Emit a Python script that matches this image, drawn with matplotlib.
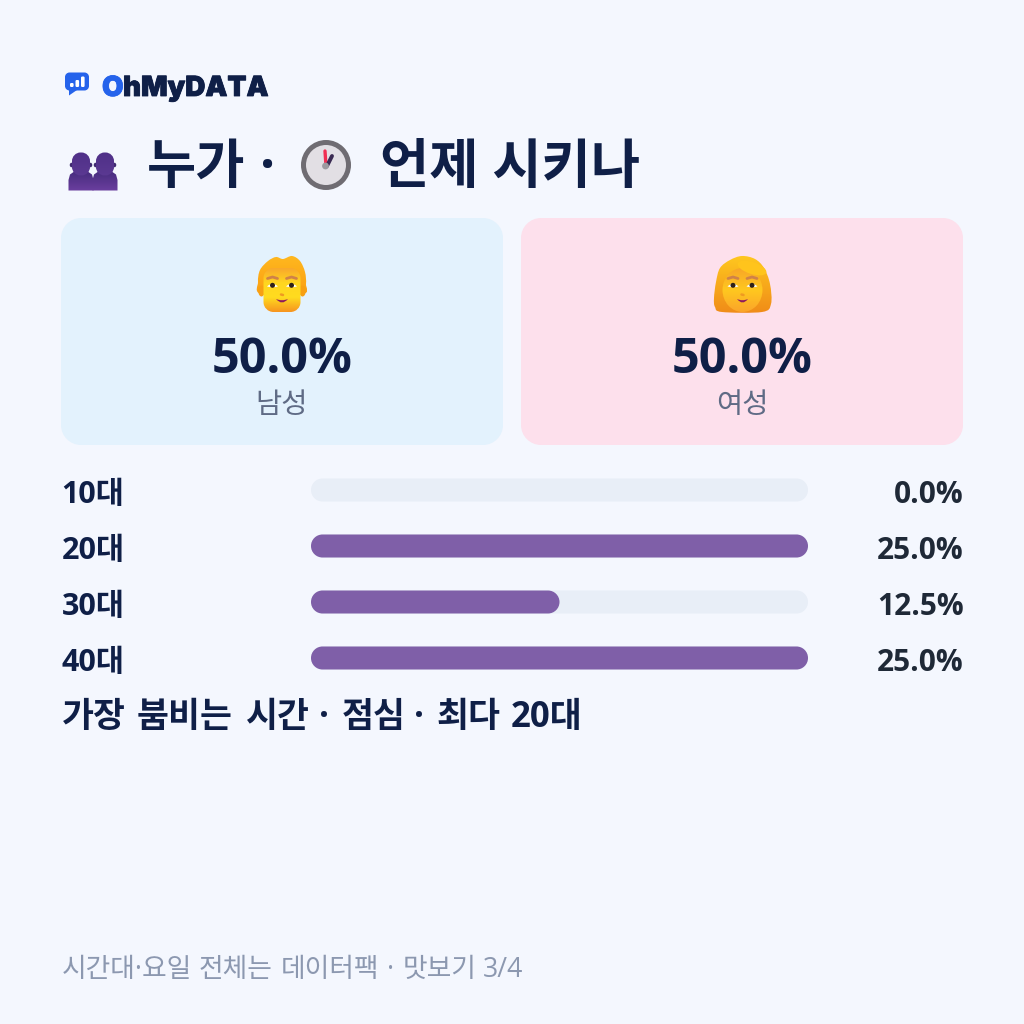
import matplotlib
matplotlib.use('Agg')
import matplotlib.pyplot as plt
import matplotlib.patheffects as pe
import numpy as np
from matplotlib.patches import Circle, Ellipse, PathPatch, Polygon
from matplotlib.path import Path
from matplotlib.colors import LinearSegmentedColormap

plt.rcParams['font.family'] = ['Open Sans', 'Noto Sans CJK KR', 'DejaVu Sans']

age_labels = ['10대', '20대', '30대', '40대']
age_values = [0.0, 25.0, 12.5, 25.0]
axis_max = 25.0

gender_labels = ['남성', '여성']
gender_values = [50.0, 50.0]

brand_rest = 'hMyDATA'
title_left = '누가'
title_right = '언제 시키나'
busiest = '가장 붐비는 시간 · 점심 · 최다 20대'
footer = '시간대·요일 전체는 데이터팩 · 맛보기 3/4'

# left edge of each word on the two long lines
busiest_x = [62, 136.5, 246, 319, 342, 414, 436, 511]
footer_x = [62, 199, 281, 387, 403, 483]

BG = '#f4f7fe'
NAVY = '#0f1f47'
BAR = '#7f5fa8'
TRACK = '#e8eef7'
K = 0.5523


def rrect_path(x, y, w, h, r):
    # rounded rectangle with true circular corners
    c = r * (1 - K)
    x2, y2 = x + w, y + h
    verts = [(x + r, y), (x2 - r, y), (x2 - c, y), (x2, y + c), (x2, y + r),
             (x2, y2 - r), (x2, y2 - c), (x2 - c, y2), (x2 - r, y2),
             (x + r, y2), (x + c, y2), (x, y2 - c), (x, y2 - r),
             (x, y + r), (x, y + c), (x + c, y), (x + r, y)]
    codes = [Path.MOVETO, Path.LINETO] + [Path.CURVE4] * 3 + [Path.LINETO] + [Path.CURVE4] * 3 + \
            [Path.LINETO] + [Path.CURVE4] * 3 + [Path.LINETO] + [Path.CURVE4] * 3
    return Path(verts, codes)


def rrect(ax, x, y, w, h, r, color, z=1):
    p = PathPatch(rrect_path(x, y, w, h, r), fc=color, ec='none', zorder=z)
    ax.add_patch(p)
    return p


def grad_fill(ax, patch, box, colors, z=5):
    # vertical gradient clipped to a patch
    patch.set_facecolor('none')
    patch.set_edgecolor('none')
    patch.set_zorder(z)
    ax.add_patch(patch)
    cmap = LinearSegmentedColormap.from_list('g', colors)
    im = ax.imshow(np.linspace(0, 1, 64).reshape(-1, 1), extent=box, cmap=cmap,
                   aspect='auto', zorder=z, interpolation='bilinear')
    im.set_clip_path(patch)


def smooth(points):
    # closed Catmull-Rom outline through the given points
    pts = np.array(points, dtype=float)
    n = len(pts)
    verts = [pts[0]]
    codes = [Path.MOVETO]
    for i in range(n):
        p0, p1, p2, p3 = pts[i - 1], pts[i], pts[(i + 1) % n], pts[(i + 2) % n]
        verts += [p1 + (p2 - p0) / 6, p2 - (p3 - p1) / 6, p2]
        codes += [Path.CURVE4] * 3
    return Path(verts, codes)


def logo(ax):
    rrect(ax, 65, 72.5, 24, 18, 4.5, '#2563eb', 5)
    ax.add_patch(Polygon([[69, 89], [77, 90], [69, 95.5]], fc='#2563eb', ec='none', zorder=5))
    for x, top in [(70, 83), (75.5, 80), (81, 76.5)]:
        rrect(ax, x, top, 3.6, 87 - top, 1.2, 'white', 6)


def people(ax):
    for cx, z in [(81, 5), (105, 7)]:
        outline = [(cx - 12.5, 190.5), (cx - 12.5, 180), (cx - 11, 174.5), (cx - 6, 171),
                   (cx + 6, 171), (cx + 11, 174.5), (cx + 12.5, 180), (cx + 12.5, 190.5)]
        body = Polygon(outline, closed=True)
        grad_fill(ax, body, (cx - 13, cx + 13, 191, 170), ['#452b7c', '#6b3f9f'], z)
        ax.add_patch(Ellipse((cx - 9.5, 165), 3.5, 4.5, fc='#3f2a70', ec='none', zorder=z + 1))
        ax.add_patch(Ellipse((cx + 9.5, 165), 3.5, 4.5, fc='#3f2a70', ec='none', zorder=z + 1))
        head = rrect_path(cx - 9, 152.5, 18, 23, 8.5)
        grad_fill(ax, PathPatch(head), (cx - 10, cx + 10, 176, 152), ['#4f3088', '#5b3992'], z + 1)


def clock(ax):
    ax.add_patch(Circle((326, 165), 25, fc='#6f6c72', ec='none', zorder=5))
    ax.add_patch(Circle((326, 165), 20, fc='#e2dfe4', ec='none', zorder=6))
    ax.plot([326, 325], [166, 151], color='#f12e52', lw=2.4, zorder=7, solid_capstyle='round')
    ax.plot([327, 332], [166, 156], color='#3a2a52', lw=2.8, zorder=7, solid_capstyle='round')
    ax.add_patch(Circle((325.5, 166), 3.4, fc='#9b9aa0', ec='none', zorder=8))


def face_features(ax, cx, cy, mouth_w=10):
    # brows, eyes and mouth shared by both faces
    for s in (-1, 1):
        ex = cx + s * 9.5
        ax.plot([ex - 5, ex, ex + 5], [cy - 9, cy - 10.5, cy - 9], color='#d08248', lw=2.0,
                zorder=8, solid_capstyle='round')
        eye = Path([(ex - 5.5, cy - 1), (ex, cy - 6.5), (ex + 5.5, cy - 1), (ex, cy + 0.5), (ex - 5.5, cy - 1)],
                   [Path.MOVETO, Path.CURVE3, Path.CURVE3, Path.CURVE3, Path.CURVE3])
        ax.add_patch(PathPatch(eye, fc='white', ec='none', zorder=8))
        ax.add_patch(Circle((ex, cy - 2.2), 2.5, fc='#2e2018', ec='none', zorder=9))
    ax.plot([cx - 1, cx + 1], [cy + 7, cy + 7.5], color='#ef9a22', lw=1.8, zorder=8,
            solid_capstyle='round')
    mouth = Path([(cx - mouth_w / 2 - 1, cy + 11.5), (cx, cy + 14), (cx + mouth_w / 2 + 1, cy + 11.5),
                  (cx, cy + 18.5), (cx - mouth_w / 2 - 1, cy + 11.5)],
                 [Path.MOVETO, Path.CURVE3, Path.CURVE3, Path.CURVE3, Path.CURVE3])
    ax.add_patch(PathPatch(mouth, fc='#8e1a5e', ec='none', zorder=8))


def man(ax):
    hair = smooth([(258, 282), (260, 270), (268, 261), (276, 257), (283, 259), (292, 256),
                   (300, 261), (305, 272), (306, 284), (303, 294), (261, 294)])
    grad_fill(ax, PathPatch(hair), (256, 307, 295, 255), ['#ffb81f', '#fb9f12'], 5)
    ax.add_patch(Ellipse((261.5, 291), 6.5, 11, fc='#f7a012', ec='none', zorder=5))
    ax.add_patch(Ellipse((302.5, 291), 6.5, 11, fc='#f7a012', ec='none', zorder=5))
    face = rrect_path(263.5, 268, 37, 44, 10)
    grad_fill(ax, PathPatch(face), (263, 301, 312, 268),
              ['#f9a82c', '#ffd61f', '#ffdc1f', '#f7951f'], 6)
    face_features(ax, 282, 287.5, 10)


def woman(ax):
    hair = smooth([(714, 298), (716, 282), (720, 268), (730, 260), (742, 256), (755, 259), (764, 268),
                   (770, 284), (771, 304), (762, 312), (722, 312), (715, 307)])
    grad_fill(ax, PathPatch(hair), (713, 772, 313, 255), ['#ffc81f', '#f08c18'], 5)
    face = Ellipse((742.5, 290), 40, 44)
    grad_fill(ax, face, (722, 763, 312, 268), ['#f8a628', '#ffc81f', '#fba52a'], 6)
    ax.add_patch(Ellipse((752, 268), 30, 12, angle=18, fc='#ffc41c', ec='none', zorder=7))
    face_features(ax, 742.5, 287.5, 9)


fig = plt.figure(figsize=(10.24, 10.24), dpi=100, facecolor=BG)
ax = fig.add_axes([0, 0, 1, 1])
ax.set_xlim(0, 1024)
ax.set_ylim(1024, 0)
ax.axis('off')
ax.set_autoscale_on(False)

# header
logo(ax)
heavy = [pe.withStroke(linewidth=0.6, foreground=NAVY)]
ax.text(102, 96, 'O', color='#2563eb', fontsize=20, fontweight='black', family='Inter',
        path_effects=[pe.withStroke(linewidth=0.6, foreground='#2563eb')])
ax.text(123, 96, brand_rest, color=NAVY, fontsize=20, fontweight='black', family='Inter', path_effects=heavy)
people(ax)
ax.text(147, 183, title_left, color=NAVY, fontsize=38.5, fontweight='bold')
ax.text(267.5, 183, '·', color=NAVY, fontsize=38.5, fontweight='bold', ha='center')
clock(ax)
ax.text(380, 183, title_right, color=NAVY, fontsize=38.5, fontweight='bold')

# gender cards
cards = [(61, '#e3f2fd', 282), (521, '#fde0ec', 742)]
for (x, col, cx), lab, val in zip(cards, gender_labels, gender_values):
    rrect(ax, x, 218, 442, 227, 20, col)
    ax.text(cx, 373, '%.1f%%' % val, color=NAVY, fontsize=35, fontweight='bold', ha='center')
    ax.text(cx, 413, lab, color='#5f6b85', fontsize=20.5, ha='center')
man(ax)
woman(ax)

# age rows
bar_x = 311
bar_w = 497
for i, (lab, val) in enumerate(zip(age_labels, age_values)):
    y = 490 + i * 56
    ax.text(61.5, y + 12.5, lab, color=NAVY, fontsize=22, fontweight='bold')
    rrect(ax, bar_x, y - 11.5, bar_w, 23, 11.5, TRACK, 2)
    if val > 0:
        rrect(ax, bar_x, y - 11.5, bar_w * val / axis_max, 23, 11.5, BAR, 3)
    ax.text(963.5, y + 13, '%.1f%%' % val, color='#1f2937', fontsize=21.5, fontweight='bold', ha='right')

for word, x in zip(busiest.split(' '), busiest_x):
    ax.text(x, 727, word, color=NAVY, fontsize=25, fontweight='bold')
for word, x in zip(footer.split(' '), footer_x):
    ax.text(x, 977, word, color='#8c98b0', fontsize=19.3)

fig.savefig('out.png', dpi=100, facecolor=BG)
